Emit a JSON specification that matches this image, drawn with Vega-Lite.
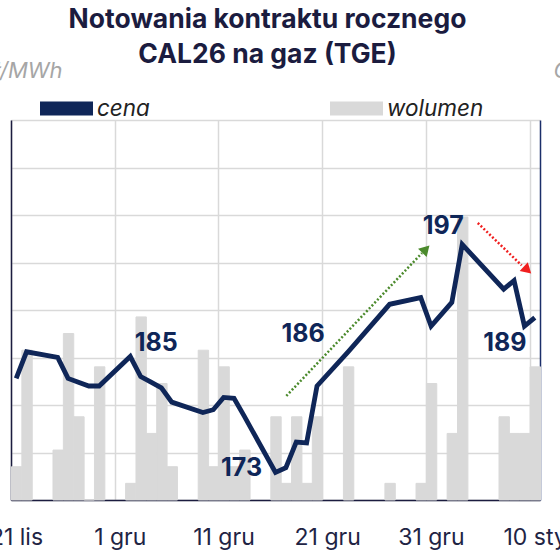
{
  "$schema": "https://vega.github.io/schema/vega-lite/v6.json",
  "autosize": "none",
  "width": 529,
  "height": 380,
  "padding": {"left": 11, "top": 120, "right": 20, "bottom": 60},
  "background": "white",
  "title": {
    "text": ["Notowania kontraktu rocznego", "CAL26 na gaz (TGE)"],
    "font": "Inter",
    "fontSize": 26.5,
    "fontWeight": "bold",
    "color": "#1b1c3f",
    "lineHeight": 35,
    "anchor": "middle",
    "dx": -8,
    "dy": 53,
    "offset": 44
  },
  "config": {
    "view": {"stroke": null},
    "font": "Inter"
  },
  "datasets": {
    "cena": [
      {"date": "2024-11-21", "price": 182.8},
      {"date": "2024-11-22", "price": 185.6},
      {"date": "2024-11-25", "price": 185.0},
      {"date": "2024-11-26", "price": 182.8},
      {"date": "2024-11-27", "price": 182.4},
      {"date": "2024-11-28", "price": 182.0},
      {"date": "2024-11-29", "price": 182.0},
      {"date": "2024-12-02", "price": 185.1},
      {"date": "2024-12-03", "price": 183.0},
      {"date": "2024-12-04", "price": 182.4},
      {"date": "2024-12-05", "price": 181.8},
      {"date": "2024-12-06", "price": 180.3},
      {"date": "2024-12-09", "price": 179.2},
      {"date": "2024-12-10", "price": 179.5},
      {"date": "2024-12-11", "price": 180.8},
      {"date": "2024-12-12", "price": 180.7},
      {"date": "2024-12-13", "price": 178.8},
      {"date": "2024-12-16", "price": 172.9},
      {"date": "2024-12-17", "price": 173.4},
      {"date": "2024-12-18", "price": 176.1},
      {"date": "2024-12-19", "price": 176.0},
      {"date": "2024-12-20", "price": 182.0},
      {"date": "2024-12-23", "price": 185.6},
      {"date": "2024-12-27", "price": 190.6},
      {"date": "2024-12-30", "price": 191.3},
      {"date": "2024-12-31", "price": 188.3},
      {"date": "2025-01-02", "price": 190.8},
      {"date": "2025-01-03", "price": 196.9},
      {"date": "2025-01-07", "price": 192.2},
      {"date": "2025-01-08", "price": 193.1},
      {"date": "2025-01-09", "price": 188.3},
      {"date": "2025-01-10", "price": 189.2}
    ],
    "wolumen": [
      {"date": "2024-11-21", "volume": 17.52},
      {"date": "2024-11-22", "volume": 78.84},
      {"date": "2024-11-25", "volume": 26.28},
      {"date": "2024-11-26", "volume": 87.6},
      {"date": "2024-11-27", "volume": 43.8},
      {"date": "2024-11-28", "volume": 0},
      {"date": "2024-11-29", "volume": 70.08},
      {"date": "2024-12-02", "volume": 8.76},
      {"date": "2024-12-03", "volume": 96.36},
      {"date": "2024-12-04", "volume": 35.04},
      {"date": "2024-12-05", "volume": 61.32},
      {"date": "2024-12-06", "volume": 17.52},
      {"date": "2024-12-09", "volume": 78.84},
      {"date": "2024-12-10", "volume": 17.52},
      {"date": "2024-12-11", "volume": 70.08},
      {"date": "2024-12-12", "volume": 17.52},
      {"date": "2024-12-13", "volume": 26.28},
      {"date": "2024-12-16", "volume": 43.8},
      {"date": "2024-12-17", "volume": 8.76},
      {"date": "2024-12-18", "volume": 43.8},
      {"date": "2024-12-19", "volume": 8.76},
      {"date": "2024-12-20", "volume": 43.8},
      {"date": "2024-12-23", "volume": 70.08},
      {"date": "2024-12-27", "volume": 8.76},
      {"date": "2024-12-30", "volume": 8.76},
      {"date": "2024-12-31", "volume": 61.32},
      {"date": "2025-01-02", "volume": 35.04},
      {"date": "2025-01-03", "volume": 148.92},
      {"date": "2025-01-07", "volume": 43.8},
      {"date": "2025-01-08", "volume": 35.04},
      {"date": "2025-01-09", "volume": 35.04},
      {"date": "2025-01-10", "volume": 70.08}
    ],
    "arrows": [
      {"trend": "up", "start": "2024-12-17T13:00:00Z", "end": "2024-12-30T15:00:00Z", "p0": 180.95, "p1": 196.0},
      {"trend": "down", "start": "2025-01-05T00:00:00Z", "end": "2025-01-09T05:30:00Z", "p0": 199.16, "p1": 194.7}
    ],
    "heads": [
      {"trend": "up", "date": "2024-12-31T00:00:00Z", "price": 196.4, "angle": 43.7},
      {"trend": "down", "date": "2025-01-09T19:00:00Z", "price": 194.2, "angle": 133.4}
    ],
    "notes": [
      {"date": "2024-12-02", "price": 185.1, "label": "185"},
      {"date": "2024-12-23", "price": 185.6, "label": "186"},
      {"date": "2024-12-16", "price": 172.9, "label": "173"},
      {"date": "2025-01-03", "price": 196.9, "label": "197"},
      {"date": "2025-01-10", "price": 189.2, "label": "189"}
    ]
  },
  "encoding": {
    "x": {
      "field": "date",
      "timeUnit": "utcyearmonthdate",
      "type": "temporal",
      "scale": {
        "type": "utc",
        "nice": false,
        "domain": [
          {"year": 2024, "month": 11, "date": 21, "utc": true},
          {"year": 2025, "month": 1, "date": 11, "utc": true}
        ]
      },
      "axis": {
        "title": null,
        "values": [
          {"year": 2024, "month": 11, "date": 21, "utc": true},
          {"year": 2024, "month": 12, "date": 1, "utc": true},
          {"year": 2024, "month": 12, "date": 11, "utc": true},
          {"year": 2024, "month": 12, "date": 21, "utc": true},
          {"year": 2024, "month": 12, "date": 31, "utc": true},
          {"year": 2025, "month": 1, "date": 10, "utc": true}
        ],
        "labelExpr": "utcdate(datum.value) + ' ' + ['sty','lut','mar','kwi','maj','cze','lip','sie','wrz','paź','lis','gru'][utcmonth(datum.value)]",
        "labelOffset": 5,
        "labelFontSize": 23,
        "labelColor": "#1f2444",
        "labelPadding": 26,
        "labelFlush": false,
        "labelOverlap": false,
        "ticks": false,
        "grid": true,
        "gridColor": "#d9d9d9",
        "gridWidth": 1.5,
        "domainColor": "#1b1c3f",
        "domainWidth": 1.5
      }
    }
  },
  "layer": [
    {
      "data": {"name": "wolumen"},
      "mark": {"type": "bar", "color": "#d9d9d9", "stroke": "#d9d9d9", "strokeWidth": 1, "binSpacing": 0, "timeUnitBandSize": 1},
      "encoding": {
        "y": {
          "field": "volume",
          "type": "quantitative",
          "scale": {"domain": [0, 200], "nice": false},
          "axis": {
            "orient": "right",
            "labels": false,
            "ticks": false,
            "grid": false,
            "domainColor": "#1b2e6a",
            "domainWidth": 1.5,
            "title": "GWh",
            "titleAngle": 0,
            "titleAlign": "left",
            "titleBaseline": "middle",
            "titleX": 13,
            "titleY": -50,
            "titleFontSize": 22,
            "titleFontWeight": "normal",
            "titleFontStyle": "italic",
            "titleColor": "#a6a6a6"
          }
        },
        "color": {
          "datum": "wolumen",
          "scale": {"domain": ["cena", "wolumen"], "range": ["#0f2658", "#d9d9d9"]},
          "legend": {
            "title": null,
            "orient": "none",
            "direction": "horizontal",
            "legendX": 29,
            "legendY": -38,
            "padding": 0,
            "symbolType": "M-1,-0.26H1V0.26H-1Z",
            "symbolSize": 2809,
            "symbolStrokeWidth": 0,
            "symbolOpacity": 1,
            "labelFontSize": 22.5,
            "labelFontStyle": "italic",
            "labelColor": "#222222",
            "labelOffset": 4,
            "columnPadding": 180
          }
        }
      }
    },
    {
      "layer": [
        {
          "data": {"name": "cena"},
          "mark": {"type": "line", "color": "#0f2658", "strokeWidth": 4.8, "strokeJoin": "miter"},
          "encoding": {
            "x": {"field": "date", "timeUnit": "utcyearmonthdate", "type": "temporal", "bandPosition": 0.5},
            "y": {
              "field": "price",
              "type": "quantitative",
              "scale": {"domain": [170, 210], "nice": false, "zero": false},
              "axis": {
                "values": [170, 175, 180, 185, 190, 195, 200, 205, 210],
                "labels": false,
                "ticks": false,
                "grid": true,
                "gridColor": "#d9d9d9",
                "gridWidth": 1.5,
                "domainColor": "#1b1c3f",
                "domainWidth": 1.5,
                "title": "zł/MWh",
                "titleAngle": 0,
                "titleAlign": "right",
                "titleBaseline": "middle",
                "titleX": 51,
                "titleY": -50,
                "titleFontSize": 22,
                "titleFontWeight": "normal",
                "titleFontStyle": "italic",
                "titleColor": "#a6a6a6"
              }
            }
          }
        },
        {
          "data": {"name": "arrows"},
          "mark": {"type": "rule", "strokeWidth": 2.5, "strokeDash": [2, 2]},
          "encoding": {
            "x": {"field": "start", "type": "temporal", "timeUnit": null},
            "x2": {"field": "end"},
            "y": {"field": "p0", "type": "quantitative"},
            "y2": {"field": "p1"},
            "color": {"field": "trend", "type": "nominal", "scale": {"domain": ["up", "down"], "range": ["#4b8a2c", "#f01f1f"]}, "legend": null}
          }
        },
        {
          "data": {"name": "heads"},
          "mark": {"type": "point", "shape": "triangle-up", "filled": true, "opacity": 1, "size": 140},
          "encoding": {
            "x": {"field": "date", "type": "temporal", "timeUnit": null},
            "y": {"field": "price", "type": "quantitative"},
            "angle": {"field": "angle", "type": "quantitative", "scale": null},
            "color": {"field": "trend", "type": "nominal", "scale": {"domain": ["up", "down"], "range": ["#4b8a2c", "#f01f1f"]}, "legend": null}
          }
        },
        {
          "data": {"name": "notes"},
          "transform": [{"filter": "datum.label == '185'"}],
          "mark": {"type": "text", "fontSize": 25, "fontWeight": "bold", "color": "#0f2658", "dx": 26, "dy": -14},
          "encoding": {
            "x": {"field": "date", "timeUnit": "utcyearmonthdate", "type": "temporal", "bandPosition": 0.5},
            "y": {"field": "price", "type": "quantitative"},
            "text": {"field": "label"}
          }
        },
        {
          "data": {"name": "notes"},
          "transform": [{"filter": "datum.label == '186'"}],
          "mark": {"type": "text", "fontSize": 25, "fontWeight": "bold", "color": "#0f2658", "dx": -45, "dy": -18},
          "encoding": {
            "x": {"field": "date", "timeUnit": "utcyearmonthdate", "type": "temporal", "bandPosition": 0.5},
            "y": {"field": "price", "type": "quantitative"},
            "text": {"field": "label"}
          }
        },
        {
          "data": {"name": "notes"},
          "transform": [{"filter": "datum.label == '173'"}],
          "mark": {"type": "text", "fontSize": 25, "fontWeight": "bold", "color": "#0f2658", "dx": -34, "dy": -4},
          "encoding": {
            "x": {"field": "date", "timeUnit": "utcyearmonthdate", "type": "temporal", "bandPosition": 0.5},
            "y": {"field": "price", "type": "quantitative"},
            "text": {"field": "label"}
          }
        },
        {
          "data": {"name": "notes"},
          "transform": [{"filter": "datum.label == '197'"}],
          "mark": {"type": "text", "fontSize": 25, "fontWeight": "bold", "color": "#0f2658", "dx": -19, "dy": -18},
          "encoding": {
            "x": {"field": "date", "timeUnit": "utcyearmonthdate", "type": "temporal", "bandPosition": 0.5},
            "y": {"field": "price", "type": "quantitative"},
            "text": {"field": "label"}
          }
        },
        {
          "data": {"name": "notes"},
          "transform": [{"filter": "datum.label == '189'"}],
          "mark": {"type": "text", "fontSize": 25, "fontWeight": "bold", "color": "#0f2658", "dx": -30, "dy": 25},
          "encoding": {
            "x": {"field": "date", "timeUnit": "utcyearmonthdate", "type": "temporal", "bandPosition": 0.5},
            "y": {"field": "price", "type": "quantitative"},
            "text": {"field": "label"}
          }
        }
      ],
      "resolve": {"scale": {"color": "independent"}}
    }
  ],
  "resolve": {"scale": {"y": "independent", "color": "independent"}, "axis": {"y": "independent"}}
}
